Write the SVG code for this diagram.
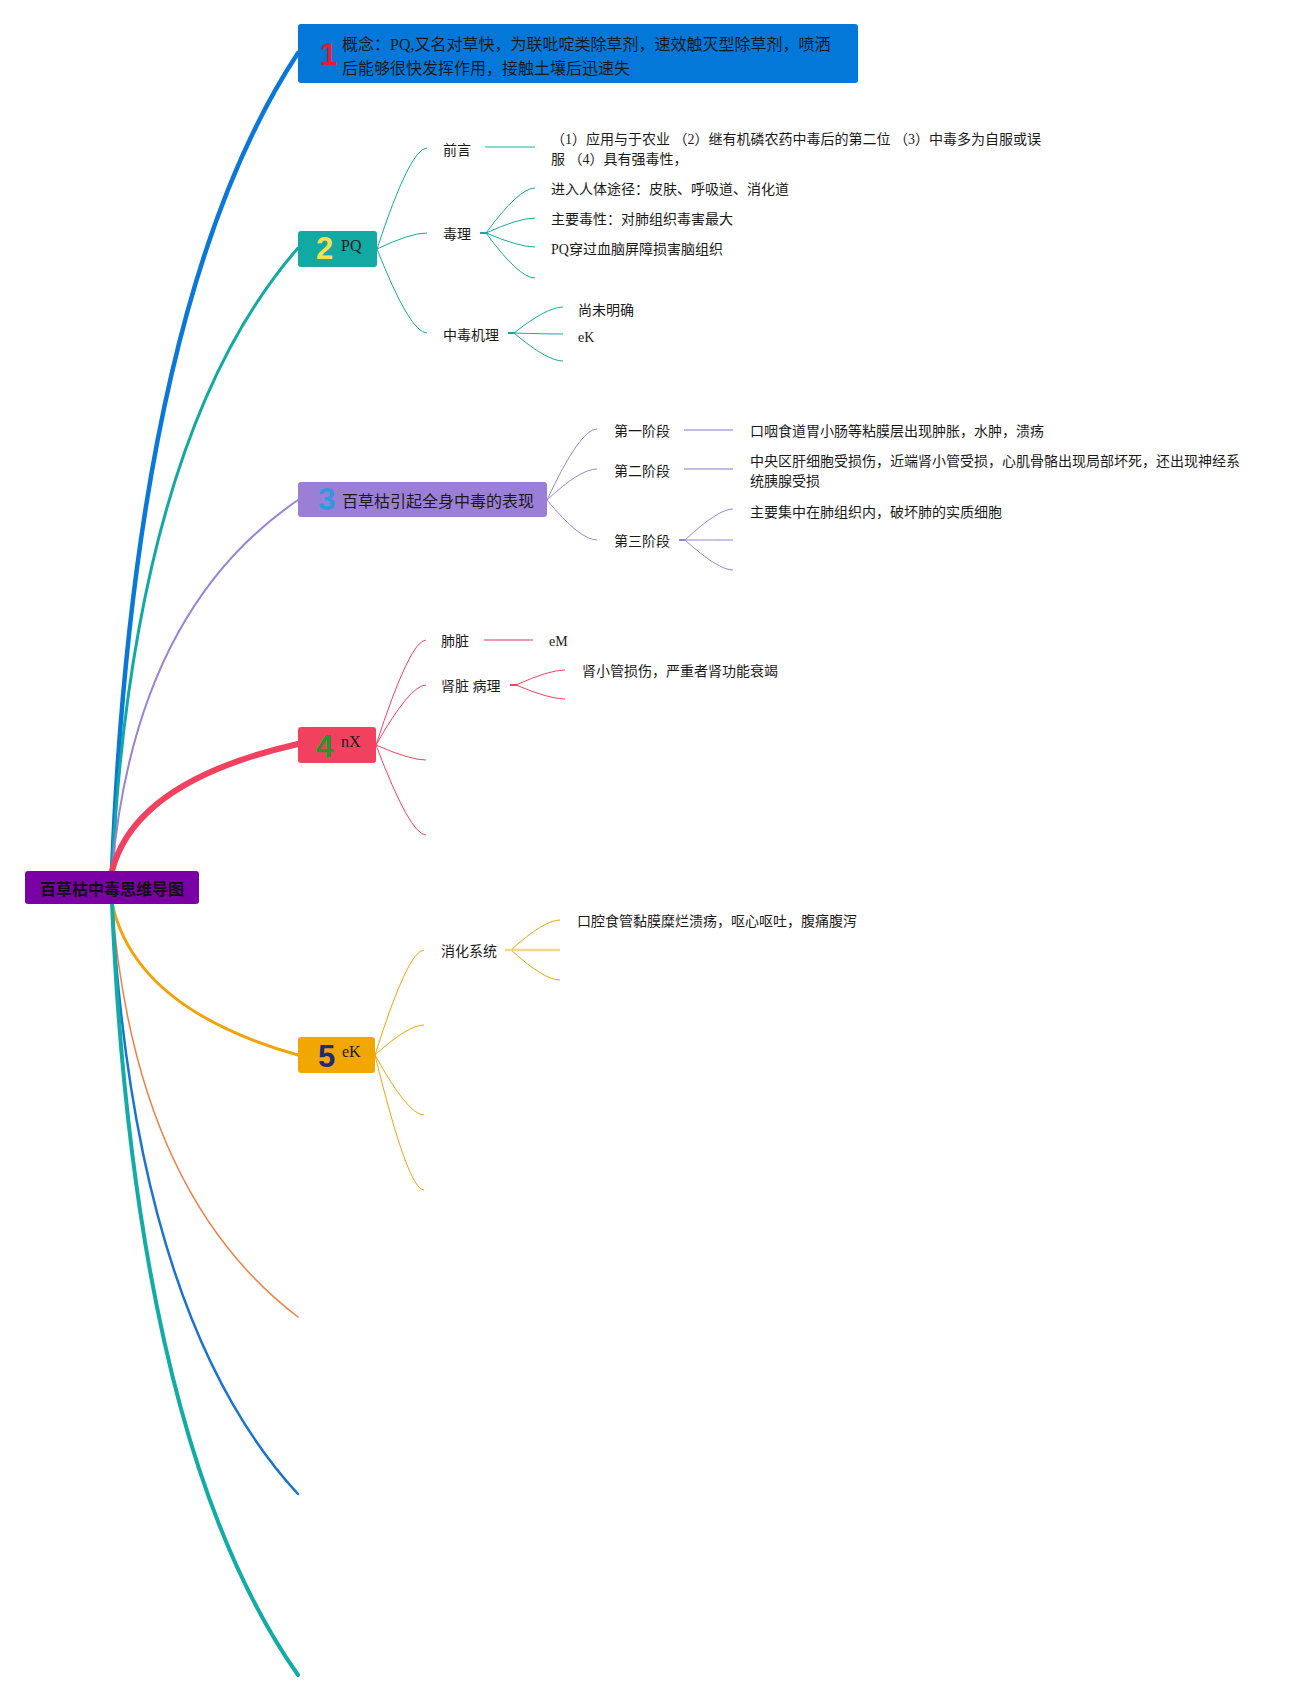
<svg xmlns="http://www.w3.org/2000/svg" width="1309" height="1700" viewBox="0 0 1309 1700">
<style>
.t{font-family:"Liberation Serif","Noto Sans CJK SC",sans-serif;font-size:14px;fill:#1a1a1a}
.tb{font-family:"Liberation Serif","Noto Sans CJK SC",sans-serif;font-size:16px;fill:#1a1a1a}
.root{font-family:"Noto Sans CJK SC",sans-serif;font-size:16px;font-weight:bold;fill:#111}
.num{font-family:"Liberation Sans","DejaVu Sans",sans-serif;font-weight:bold;font-size:31px}
.m{fill:none;stroke-linecap:round}
.s{fill:none;stroke-width:1}
</style>
<rect width="1309" height="1700" fill="#ffffff"/>
<g id="connectors">
  <!-- main branches -->
  <path class="m" d="M112,871 Q135,300 298,53" stroke="#0A78D8" stroke-width="4.5"/>
  <path class="m" d="M112,871 Q135,435 298,248" stroke="#13A9A3" stroke-width="3"/>
  <path class="m" d="M112,871 Q135,611 298,500" stroke="#9B82D8" stroke-width="2"/>
  <path class="m" d="M112,871 Q135,781 298,744" stroke="#F2415F" stroke-width="6"/>
  <path class="m" d="M112,903 Q135,1009 298,1055" stroke="#F0A30A" stroke-width="3"/>
  <path class="m" d="M112,903 Q135,1193 298,1317" stroke="#F07F45" stroke-width="1.5"/>
  <path class="m" d="M112,903 Q135,1317 298,1494" stroke="#1A73D0" stroke-width="2.5"/>
  <path class="m" d="M112,903 Q135,1443 298,1675" stroke="#12ABA5" stroke-width="4"/>
  <!-- box 2 subtree -->
  <g stroke="#13A9A3">
    <path class="s" d="M377,249 Q410,148 427,148"/>
    <path class="s" d="M377,249 Q410,233 427,233"/>
    <path class="s" d="M377,249 Q410,333 427,333"/>
    <path class="s" d="M486,233 Q519,188 535,188"/>
    <path class="s" d="M486,233 Q519,218 535,218"/>
    <path class="s" d="M486,233 Q519,247 535,247"/>
    <path class="s" d="M486,233 Q519,278 535,278"/>
    <path class="s" d="M514,333 Q547,307 563,307"/>
    <path class="s" d="M514,333 Q547,334 563,334"/>
    <path class="s" d="M514,333 Q547,361 563,361"/>
  </g>
  <line x1="485" y1="147" x2="535" y2="147" stroke="#8AD6D1" stroke-width="2"/>
  <line x1="480" y1="233" x2="487" y2="233" stroke="#13A9A3" stroke-width="2"/>
  <line x1="508" y1="333" x2="515" y2="333" stroke="#13A9A3" stroke-width="2"/>
  <!-- box 3 subtree -->
  <g stroke="#9B82D8">
    <path class="s" d="M547,500 Q580,429 597,429"/>
    <path class="s" d="M547,500 Q580,469 597,469"/>
    <path class="s" d="M547,500 Q580,540 597,540"/>
    <path class="s" d="M685,540 Q718,509 733,509"/>
    <path class="s" d="M685,540 Q718,540 733,540"/>
    <path class="s" d="M685,540 Q718,570 733,570"/>
  </g>
  <line x1="684" y1="430" x2="733" y2="430" stroke="#C5B9E8" stroke-width="2"/>
  <line x1="684" y1="469" x2="733" y2="469" stroke="#C5B9E8" stroke-width="2"/>
  <line x1="679" y1="540" x2="686" y2="540" stroke="#9B82D8" stroke-width="2"/>
  <!-- box 4 subtree -->
  <g stroke="#F2415F">
    <path class="s" d="M376,745 Q410,640 426,640"/>
    <path class="s" d="M376,745 Q410,685 426,685"/>
    <path class="s" d="M376,745 Q410,760 426,760"/>
    <path class="s" d="M376,745 Q410,835 426,835"/>
    <path class="s" d="M516,685 Q549,670 565,670"/>
    <path class="s" d="M516,685 Q549,699 565,699"/>
  </g>
  <line x1="484" y1="640" x2="533" y2="640" stroke="#EE9AA8" stroke-width="2"/>
  <line x1="510" y1="685" x2="517" y2="685" stroke="#F2415F" stroke-width="2"/>
  <!-- box 5 subtree -->
  <g stroke="#F0A30A">
    <path class="s" d="M375,1055 Q408,950 424,950"/>
    <path class="s" d="M375,1055 Q408,1025 424,1025"/>
    <path class="s" d="M375,1055 Q408,1115 424,1115"/>
    <path class="s" d="M375,1055 Q408,1190 424,1190"/>
    <path class="s" d="M511,950 Q544,920 560,920"/>
    <path class="s" d="M511,950 Q544,980 560,980"/>
  </g>
  <line x1="505" y1="950" x2="560" y2="950" stroke="#F6D58A" stroke-width="2.5"/>
</g>
<g id="root">
  <rect x="25" y="871" width="174" height="33" rx="3" fill="#7A00A6"/>
  <text class="root" x="112" y="895" text-anchor="middle">百草枯中毒思维导图</text>
</g>
<g id="node1">
  <rect x="298" y="24" width="560" height="59" rx="3" fill="#0478D8"/>
  <text class="num" x="320" y="65" fill="#D9203A">1</text>
  <text class="tb" x="342" y="50">概念：PQ,又名对草快，为联吡啶类除草剂，速效触灭型除草剂，喷洒</text>
  <text class="tb" x="342" y="74">后能够很快发挥作用，接触土壤后迅速失</text>
</g>
<g id="node2">
  <rect x="298" y="231" width="79" height="36" rx="3" fill="#13A9A3"/>
  <text class="num" x="316" y="259" fill="#F5E050">2</text>
  <text class="tb" x="341" y="251">PQ</text>
</g>
<g id="node2-1"><text class="t" x="443" y="155">前言</text></g>
<g id="node2-1-1">
  <text class="t" x="551" y="144">（1）应用与于农业 （2）继有机磷农药中毒后的第二位 （3）中毒多为自服或误</text>
  <text class="t" x="551" y="164">服 （4）具有强毒性，</text>
</g>
<g id="node2-2"><text class="t" x="443" y="239">毒理</text></g>
<g id="node2-2-1"><text class="t" x="551" y="194">进入人体途径：皮肤、呼吸道、消化道</text></g>
<g id="node2-2-2"><text class="t" x="551" y="224">主要毒性：对肺组织毒害最大</text></g>
<g id="node2-2-3"><text class="t" x="551" y="254">PQ穿过血脑屏障损害脑组织</text></g>
<g id="node2-3"><text class="t" x="443" y="340">中毒机理</text></g>
<g id="node2-3-1"><text class="t" x="578" y="315">尚未明确</text></g>
<g id="node2-3-2"><text class="t" x="578" y="342">eK</text></g>
<g id="node3">
  <rect x="298" y="482" width="249" height="35" rx="3" fill="#9B7FD6"/>
  <text class="num" x="318" y="510" fill="#2B9BE0">3</text>
  <text class="tb" x="342" y="507">百草枯引起全身中毒的表现</text>
</g>
<g id="node3-1"><text class="t" x="614" y="436">第一阶段</text></g>
<g id="node3-1-1"><text class="t" x="750" y="436">口咽食道胃小肠等粘膜层出现肿胀，水肿，溃疡</text></g>
<g id="node3-2"><text class="t" x="614" y="476">第二阶段</text></g>
<g id="node3-2-1">
  <text class="t" x="750" y="466">中央区肝细胞受损伤，近端肾小管受损，心肌骨骼出现局部坏死，还出现神经系</text>
  <text class="t" x="750" y="486">统胰腺受损</text>
</g>
<g id="node3-3"><text class="t" x="614" y="546">第三阶段</text></g>
<g id="node3-3-1"><text class="t" x="750" y="517">主要集中在肺组织内，破坏肺的实质细胞</text></g>
<g id="node4">
  <rect x="298" y="727" width="78" height="36" rx="3" fill="#F2415F"/>
  <text class="num" x="316" y="757" fill="#1E9A2A">4</text>
  <text class="tb" x="341" y="747">nX</text>
</g>
<g id="node4-1"><text class="t" x="441" y="646">肺脏</text></g>
<g id="node4-1-1"><text class="t" x="549" y="646">eM</text></g>
<g id="node4-2"><text class="t" x="441" y="691">肾脏 病理</text></g>
<g id="node4-2-1"><text class="t" x="582" y="676">肾小管损伤，严重者肾功能衰竭</text></g>
<g id="node5">
  <rect x="298" y="1037" width="77" height="36" rx="3" fill="#F2A600"/>
  <text class="num" x="318" y="1067" fill="#1F2A7A">5</text>
  <text class="tb" x="342" y="1057">eK</text>
</g>
<g id="node5-1"><text class="t" x="441" y="956">消化系统</text></g>
<g id="node5-1-1"><text class="t" x="577" y="926">口腔食管黏膜糜烂溃疡，呕心呕吐，腹痛腹泻</text></g>
</svg>
